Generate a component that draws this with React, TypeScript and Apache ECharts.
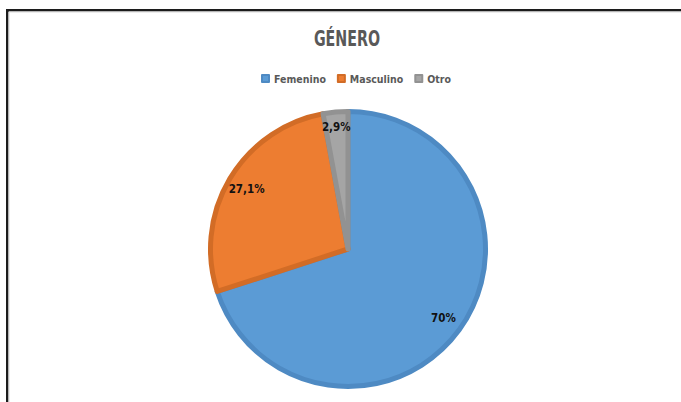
import React, { useEffect, useRef } from "react";
import * as echarts from "echarts";

const titleText = "GÉNERO";
const categories = ["Femenino", "Masculino", "Otro"];
const values = [70, 27.1, 2.9];
const fillColors = ["#5B9BD5", "#ED7D31", "#A5A5A5"];
const edgeColors = ["#4E8AC3", "#D26C26", "#929292"];

const FONT = '"DejaVu Sans Condensed", "Liberation Sans Narrow", "Roboto Condensed", "Liberation Sans", sans-serif';

const fmt = (v: number) => String(v).replace(".", ",") + "%";

export default function App() {
  const ref = useRef<HTMLDivElement>(null);
  useEffect(() => {
    if (!ref.current) return;
    const chart = echarts.init(ref.current, undefined, { renderer: "svg" });
    chart.setOption({
      animation: false,
      backgroundColor: "#ffffff",
      legend: {
        data: categories,
        top: 68,
        left: 256,
        icon: "rect",
        itemWidth: 7,
        itemHeight: 7,
        itemGap: 11,
        textStyle: {
          fontFamily: FONT,
          fontSize: 10.5,
          fontWeight: "bold",
          color: "#595959",
        },
      },
      graphic: [
        {
          type: "rect",
          shape: { x: 7.25, y: 10.25, width: 800, height: 600 },
          style: { fill: "none", stroke: "#1c1c1c", lineWidth: 2.5 },
          silent: true,
        },
        {
          type: "rect",
          shape: { x: 9, y: 12, width: 800, height: 600 },
          style: { fill: "none", stroke: "#dcdcdc", lineWidth: 1 },
          silent: true,
        },
        {
          type: "text",
          x: 347,
          y: 39,
          scaleX: 0.72,
          silent: true,
          style: {
            text: titleText,
            fontFamily: FONT,
            fontSize: 22,
            fontWeight: "bold",
            fill: "#595959",
            align: "center",
            verticalAlign: "middle",
          },
        },
      ],
      series: [
        {
          type: "pie",
          center: [348, 249],
          radius: [0, 137.5],
          startAngle: 90,
          clockwise: true,
          silent: true,
          label: { show: false },
          labelLine: { show: false },
          data: categories.map((c, i) => ({
            name: c,
            value: values[i],
            itemStyle: {
              color: fillColors[i],
              borderColor: edgeColors[i],
              borderWidth: 5,
            },
          })),
        },
        {
          type: "pie",
          center: [348, 249],
          radius: [95, 135],
          startAngle: 90,
          clockwise: true,
          silent: true,
          legendHoverLink: false,
          itemStyle: { color: "rgba(0,0,0,0)", borderWidth: 0 },
          labelLine: { show: false },
          label: {
            show: true,
            position: "inside",
            fontFamily: FONT,
            fontSize: 11.5,
            fontWeight: "bold",
            color: "#111111",
            formatter: (p: any) => fmt(p.value),
          },
          data: categories.map((c, i) => ({
            name: c,
            value: values[i],
            label: i === 2 ? { offset: [-1, -4] } : undefined,
          })),
        },
      ],
    });
    return () => chart.dispose();
  }, []);
  return (
    <div
      ref={ref}
      style={{ position: "absolute", left: 0, top: 0, width: 681, height: 402 }}
    />
  );
}
